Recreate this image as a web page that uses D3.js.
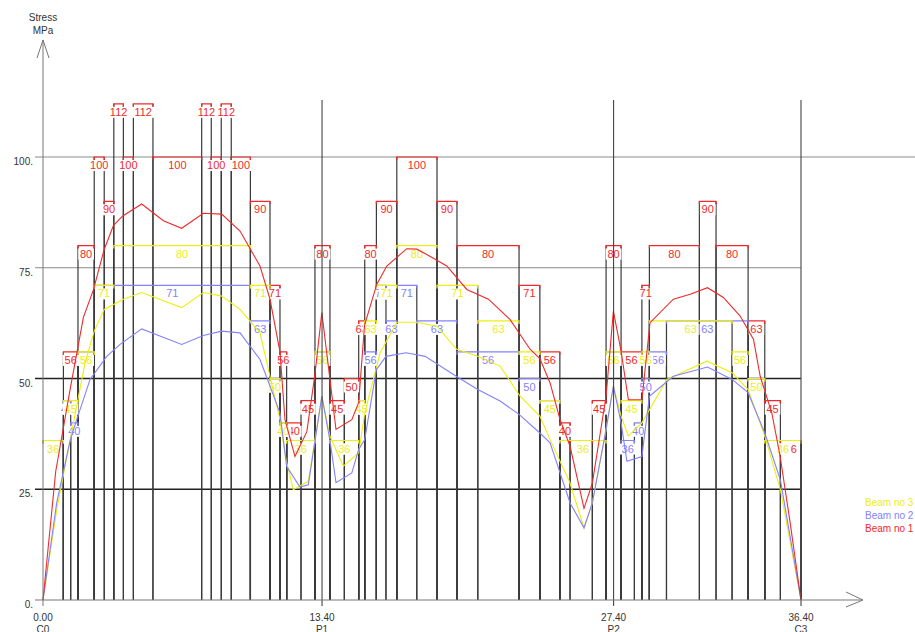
<!DOCTYPE html>
<html>
<head>
<meta charset="utf-8">
<script src="https://cdn.jsdelivr.net/npm/d3@7"></script>
<style>
    body { margin: 0; background: #fff; }
    svg { font-family: 'Liberation Sans', Arial, sans-serif; }
</style>
</head>
<body>
<div id="chart"></div>
<script>
// supports along the beam (m)
const supportPos = [0, 13.40, 27.40, 36.40];
const supportNames = ['C0', 'P1', 'P2', 'C3'];
const yTicks = [0, 25, 50, 75, 100];
const legendNames = ['Beam no 3', 'Beam no 2', 'Beam no 1'];

// capacity steps [from m, to m, MPa]
const beam1Steps = [
    [0, 0.98, 36], [0.98, 1.68, 56], [1.68, 2.46, 80], [2.46, 2.94, 100], [2.94, 3.40, 90],
    [3.40, 3.86, 112], [3.86, 4.34, 100], [4.34, 5.28, 112], [5.28, 7.62, 100], [7.62, 8.08, 112],
    [8.08, 8.56, 100], [8.56, 9.04, 112], [9.04, 9.96, 100], [9.96, 10.90, 90], [10.90, 11.38, 71],
    [11.38, 11.70, 56], [11.70, 12.39, 40], [12.39, 13.06, 45], [13.06, 13.78, 80], [13.78, 14.47, 45],
    [14.47, 15.16, 50], [15.16, 15.45, 63], [15.45, 16.01, 80], [16.01, 16.99, 90], [16.99, 18.92, 100],
    [18.92, 19.88, 90], [19.88, 22.86, 80], [22.86, 23.86, 71], [23.86, 24.82, 56], [24.82, 25.31, 40],
    [25.31, 26.38, 36], [26.38, 27.04, 45], [27.04, 27.76, 80], [27.76, 28.76, 56], [28.76, 29.12, 71],
    [29.12, 31.52, 80], [31.52, 32.32, 90], [32.32, 33.86, 80], [33.86, 34.66, 63], [34.66, 35.41, 45],
    [35.41, 36.40, 36]
];
const beam2Steps = [
    [0, 0.98, 36], [0.98, 1.33, 45], [1.33, 1.68, 40], [1.68, 2.46, 56], [2.46, 9.96, 71],
    [9.96, 10.90, 63], [10.90, 11.38, 50], [11.38, 11.70, 40], [11.70, 13.06, 36], [13.06, 13.78, 56],
    [13.78, 15.16, 36], [15.16, 15.45, 45], [15.45, 16.01, 56], [16.01, 16.47, 71], [16.47, 16.99, 63],
    [16.99, 17.95, 71], [17.95, 19.88, 63], [19.88, 22.86, 56], [22.86, 23.86, 50], [23.86, 24.82, 45],
    [24.82, 27.04, 36], [27.04, 27.76, 56], [27.76, 28.40, 36], [28.40, 28.76, 40], [28.76, 29.12, 50],
    [29.12, 29.94, 56], [29.94, 33.86, 63], [33.86, 34.66, 50], [34.66, 36.40, 36]
];
const beam3Steps = [
    [0, 0.98, 36], [0.98, 1.68, 45], [1.68, 2.46, 56], [2.46, 3.40, 71], [3.40, 9.96, 80],
    [9.96, 10.90, 71], [10.90, 11.38, 50], [11.38, 11.70, 40], [11.70, 13.06, 36], [13.06, 13.78, 56],
    [13.78, 15.16, 36], [15.16, 15.45, 45], [15.45, 16.01, 63], [16.01, 16.99, 71], [16.99, 18.92, 80],
    [18.92, 20.88, 71], [20.88, 22.86, 63], [22.86, 23.86, 56], [23.86, 24.82, 45], [24.82, 27.04, 36],
    [27.04, 27.76, 56], [27.76, 28.76, 45], [28.76, 29.12, 56], [29.12, 33.09, 63], [33.09, 33.86, 56],
    [33.86, 34.66, 50], [34.66, 36.40, 36]
];

// stress curves [m, MPa]
const beam1Curve = [
    [0, 0], [0.61, 29], [1.30, 47.5], [1.94, 63.8], [2.42, 70], [2.93, 79], [3.38, 84.5], [3.83, 86.7],
    [4.74, 89.4], [5.78, 85.6], [6.66, 83.9], [7.70, 87.3], [8.58, 87.1], [9.46, 83.3], [10.42, 75.4],
    [10.90, 67.9], [11.38, 56], [11.62, 40.7], [12.10, 32.4], [12.67, 38], [13.06, 51], [13.39, 64.9],
    [13.78, 49.8], [14.07, 38.5], [14.83, 40.7], [15.16, 44.6], [15.44, 62], [16.03, 71.3], [16.51, 75.4],
    [17.47, 79.3], [17.95, 79.2], [18.43, 78], [19.39, 75.4], [20.35, 70.1], [21.39, 67.9], [22.43, 63.3],
    [23.39, 56.6], [23.86, 54.5], [24.35, 49], [24.83, 40.7], [25.31, 34.7], [25.98, 20.7], [26.38, 26.4],
    [27.04, 46], [27.39, 65.2], [27.76, 56.2], [28.11, 45.2], [28.76, 45.2], [29.15, 62.6], [30.27, 67.9],
    [31.08, 69], [31.91, 70.5], [32.67, 68.3], [33.48, 64.1], [34.12, 58.8], [34.44, 50.5], [35.00, 42.2],
    [35.40, 32.4], [35.88, 17.4], [36.40, 0]
];
const beam2Curve = [
    [0, 0], [0.66, 22], [1.30, 36], [1.62, 40.7], [2.26, 49.8], [3.06, 55], [3.70, 57.7], [4.74, 61.2],
    [6.66, 57.7], [7.70, 59.7], [8.58, 60.7], [9.46, 60.3], [10.42, 54.3], [10.90, 48.3], [11.38, 42.2],
    [11.70, 30.2], [12.34, 25.5], [12.74, 26], [13.39, 46], [13.78, 36], [14.07, 26.5], [14.83, 28.7],
    [15.16, 34], [15.45, 36.2], [16.01, 52], [16.47, 55], [17.43, 55.8], [18.35, 55], [19.88, 50.4],
    [20.88, 47.5], [21.95, 44.9], [22.86, 41.9], [23.86, 37.7], [24.35, 35.5], [25.31, 21.9], [25.98, 16.3],
    [26.38, 21.9], [27.04, 38.5], [27.39, 48.3], [27.76, 40], [28.04, 31.3], [28.76, 32.4], [29.12, 46],
    [30.27, 50.5], [31.91, 52.6], [33.09, 49.8], [33.86, 46.8], [34.66, 37.7], [35.41, 27.1], [36.40, 0]
];
const beam3Curve = [
    [0, 0], [0.66, 20.4], [1.30, 36], [2.02, 53.6], [2.46, 60.7], [2.94, 65.6], [3.86, 67.9], [4.74, 69.4],
    [6.66, 66], [7.70, 69.4], [8.58, 68.6], [9.46, 65.6], [10.42, 60.3], [10.90, 50.5], [11.38, 40.7],
    [11.67, 31.7], [12.02, 24.9], [12.74, 26.8], [13.39, 46], [13.78, 37], [14.42, 30.2], [15.16, 33.2],
    [15.45, 42.2], [16.19, 55.8], [16.99, 62.7], [17.95, 62.7], [18.91, 61.8], [19.87, 56.6], [20.88, 55],
    [21.95, 52.8], [22.91, 46], [23.86, 41.5], [24.35, 36.2], [25.31, 26.4], [25.98, 16.2], [26.38, 21.9],
    [27.04, 38.5], [27.39, 48.3], [27.76, 41.5], [28.11, 37], [28.76, 40], [29.96, 49.8], [31.88, 53.9],
    [33.09, 51.3], [33.86, 47.5], [34.66, 37], [35.41, 24.9], [36.40, 0]
];

const RED = '#f02a2a', BLUE = '#8282ff', YELLOW = '#eeee10';

class StressChart {
    constructor(_tag) {
        this.config = { width: 915, height: 632, left: 43, right: 801, bottom: 600, top100: 157 };
        this.tag = _tag;
        this.initVis();
    }

    initVis() {
        let vis = this;
        vis.svg = d3.select(vis.tag).append('svg')
            .attr('width', vis.config.width)
            .attr('height', vis.config.height);

        vis.x = d3.scaleLinear().domain([0, 36.40]).range([vis.config.left, vis.config.right]);
        vis.y = d3.scaleLinear().domain([0, 100]).range([vis.config.bottom, vis.config.top100]);

        // horizontal grid
        vis.svg.append('g').selectAll('line')
            .data(yTicks.filter(d => d > 0))
            .join('line')
            .attr('x1', 35)
            .attr('x2', d => d >= 100 ? 915 : vis.config.right)
            .attr('y1', d => vis.y(d)).attr('y2', d => vis.y(d))
            .attr('stroke', d => d >= 75 ? '#8a8a8a' : '#222')
            .attr('stroke-width', d => d >= 75 ? 1 : 1.3);

        vis.drawSteps();
        vis.drawCurves();
        vis.drawAxes();
    }

    drawSteps() {
        let vis = this;
        const beams = [
            { steps: beam1Steps, color: RED },
            { steps: beam2Steps, color: BLUE },
            { steps: beam3Steps, color: YELLOW }
        ];
        const verts = vis.svg.append('g').attr('class', 'verticals');
        beams.forEach(b => {
            verts.selectAll(null)
                .data(b.steps.flatMap(s => [[s[0], s[2]], [s[1], s[2]]]).filter(d => d[0] > 0))
                .join('line')
                .attr('x1', d => vis.x(d[0])).attr('x2', d => vis.x(d[0]))
                .attr('y1', vis.y(0)).attr('y2', d => vis.y(d[1]))
                .attr('stroke', '#3a3a3a')
                .attr('stroke-width', 1.2);
        });

        beams.forEach(b => {
            const g = vis.svg.append('g');
            g.selectAll('path')
                .data(b.steps)
                .join('path')
                .attr('d', d => {
                    const x0 = vis.x(d[0]), x1 = vis.x(d[1]), yy = vis.y(d[2]);
                    return `M${x0},${yy + 3}V${yy}H${x1}V${yy + 3}`;
                })
                .attr('fill', 'none')
                .attr('stroke', b.color)
                .attr('stroke-width', 1.2);

            const lab = g.selectAll('g.lab')
                .data(b.steps)
                .join('g')
                .attr('class', 'lab')
                .attr('transform', d => `translate(${(vis.x(d[0]) + vis.x(d[1])) / 2}, ${vis.y(d[2]) + 12})`);
            lab.append('rect')
                .attr('x', d => -String(d[2]).length * 3.4 - 1)
                .attr('y', -9)
                .attr('width', d => String(d[2]).length * 6.8 + 2)
                .attr('height', 11)
                .attr('fill', '#fff');
            lab.append('text')
                .text(d => d[2])
                .attr('text-anchor', 'middle')
                .attr('font-size', 11)
                .attr('fill', b.color);
        });
    }

    drawCurves() {
        let vis = this;
        const line = d3.line().x(d => vis.x(d[0])).y(d => vis.y(d[1]));
        [[beam3Curve, YELLOW], [beam2Curve, BLUE], [beam1Curve, RED]].forEach(c => {
            vis.svg.append('path')
                .datum(c[0])
                .attr('d', line)
                .attr('fill', 'none')
                .attr('stroke', c[1])
                .attr('stroke-width', 1.1);
        });
    }

    drawAxes() {
        let vis = this;
        const axisColor = '#777';
        const g = vis.svg.append('g');

        // support lines
        g.selectAll('line.sup')
            .data(supportPos.slice(1))
            .join('line')
            .attr('class', 'sup')
            .attr('x1', d => vis.x(d)).attr('x2', d => vis.x(d))
            .attr('y1', vis.y(0) + 6).attr('y2', 100)
            .attr('stroke', '#444')
            .attr('stroke-width', 1.1);

        // y axis with arrow
        g.append('line')
            .attr('x1', vis.x(0)).attr('x2', vis.x(0))
            .attr('y1', vis.y(0) + 6).attr('y2', 40)
            .attr('stroke', axisColor);
        g.append('path')
            .attr('d', `M${vis.x(0) - 6},58L${vis.x(0)},40L${vis.x(0) + 6},58`)
            .attr('fill', 'none').attr('stroke', axisColor);
        g.append('text').text('Stress').attr('x', vis.x(0)).attr('y', 21)
            .attr('text-anchor', 'middle').attr('font-size', 10).attr('fill', '#333');
        g.append('text').text('MPa').attr('x', vis.x(0)).attr('y', 34)
            .attr('text-anchor', 'middle').attr('font-size', 10).attr('fill', '#333');

        // x axis with arrow
        g.append('line')
            .attr('x1', 35).attr('x2', 862)
            .attr('y1', vis.y(0)).attr('y2', vis.y(0))
            .attr('stroke', axisColor);
        g.append('path')
            .attr('d', `M846,${vis.y(0) - 8}L863,${vis.y(0)}L846,${vis.y(0) + 7}`)
            .attr('fill', 'none').attr('stroke', axisColor);

        // y tick labels
        g.selectAll('text.yt')
            .data(yTicks)
            .join('text')
            .attr('class', 'yt')
            .attr('x', 33)
            .attr('y', d => vis.y(d) + 8)
            .attr('text-anchor', 'end')
            .attr('font-size', 10)
            .attr('fill', '#333')
            .text(d => `${d}.`);

        // x tick labels
        const xt = g.selectAll('g.xt')
            .data(supportPos)
            .join('g')
            .attr('class', 'xt')
            .attr('transform', d => `translate(${vis.x(d)}, 0)`);
        xt.append('text')
            .attr('y', 621).attr('text-anchor', 'middle')
            .attr('font-size', 10).attr('fill', '#333')
            .text(d => d3.format('.2f')(d));
        xt.append('text')
            .attr('y', 633).attr('text-anchor', 'middle')
            .attr('font-size', 10).attr('fill', '#333')
            .text((d, i) => supportNames[i]);

        // legend
        g.selectAll('text.leg')
            .data(legendNames)
            .join('text')
            .attr('class', 'leg')
            .attr('x', 865)
            .attr('y', (d, i) => 506 + i * 13)
            .attr('font-size', 10)
            .attr('fill', (d, i) => [YELLOW, BLUE, RED][i])
            .text(d => d);
    }
}

new StressChart('#chart');
</script>
</body>
</html>
